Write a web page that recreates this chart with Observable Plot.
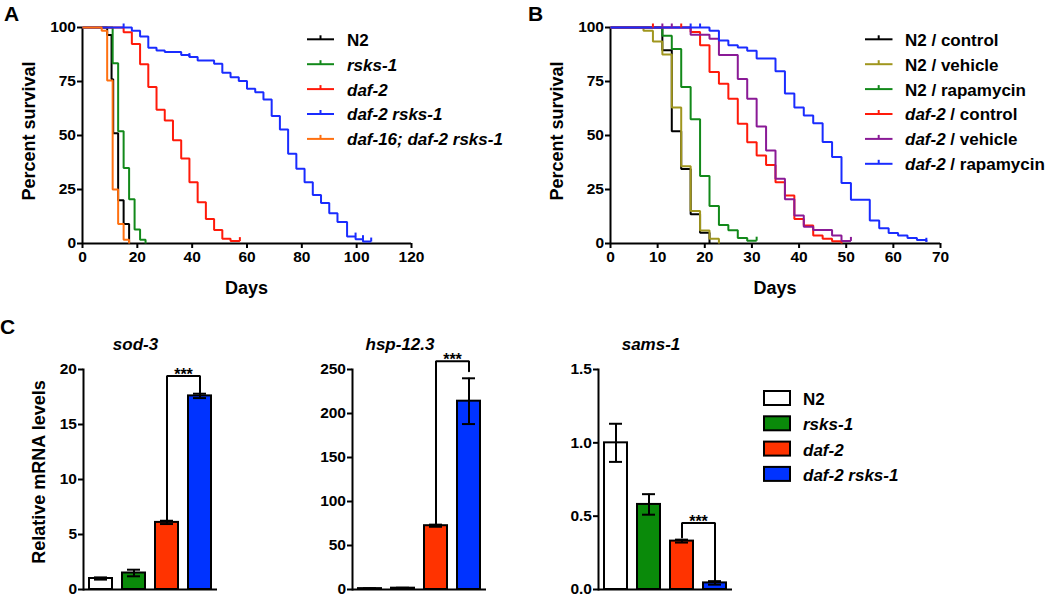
<!DOCTYPE html>
<html><head><meta charset="utf-8">
<script src="https://cdn.jsdelivr.net/npm/d3@7"></script>
<script src="https://cdn.jsdelivr.net/npm/@observablehq/plot@0.6"></script>
<style>
body{margin:0;background:#fff;}
#fig{position:relative;width:1050px;height:596px;overflow:hidden;background:#fff;}
</style></head><body><div id="fig"></div>
<script>
const FONT = '"Liberation Sans", Arial, Helvetica, sans-serif';

// ---------- Panel A data ----------
const seriesA = ["N2", "rsks-1", "daf-2", "daf-2 rsks-1", "daf-16; daf-2 rsks-1"];
const colorsA = ["#000000", "#12891a", "#ff1a0a", "#1a2cff", "#ff7010"];
const daysA_N2 = [0, 9, 10.6, 11.2, 13, 15, 17];
const pctA_N2 = [100, 96.5, 76, 51, 20, 9, 0];
const daysA_rsks = [0, 11, 13, 15, 17, 19, 21, 23];
const pctA_rsks = [100, 83.5, 52, 35, 20.5, 6.5, 1.7, 0];
const daysA_daf2 = [0, 15, 18, 21, 24, 27, 30, 33, 36, 39, 42, 45, 48, 51, 54, 57.4];
const pctA_daf2 = [100, 97.8, 92.4, 83, 72.4, 61.9, 57, 47.8, 39.3, 28.4, 19.1, 11.4, 6.3, 2.2, 1.1, 1.1];
const daysA_double = [0, 18, 21, 24, 27, 30, 36, 39, 42, 48, 51, 54, 57, 60, 63, 66, 69, 72, 75, 78, 81, 84, 87, 90, 93, 96.5, 99.6, 102.3, 105.3];
const pctA_double = [100, 98.5, 95.8, 90.6, 89.4, 88.6, 87.3, 86.3, 84.7, 83.2, 79, 77, 75.2, 71.6, 70, 66.7, 59, 52.8, 41.5, 34.6, 28.4, 22.5, 18.7, 14, 9.9, 3.2, 2, 0.9, 0.9];
const daysA_triple = [0, 7, 9, 11, 13, 15, 17];
const pctA_triple = [100, 98.5, 75.5, 25, 9, 1.7, 0];
const censorA_series = ["daf-2 rsks-1", "daf-2 rsks-1", "daf-2 rsks-1", "daf-2 rsks-1", "daf-2 rsks-1", "daf-2"];
const censorA_day = [15, 39, 99.6, 102.3, 105.3, 57.4];
const censorA_pct = [100, 86.3, 3.2, 2, 0.9, 1.1];
const xTicksA = [0, 20, 40, 60, 80, 100, 120];

// ---------- Panel B data ----------
const seriesB = ["N2 / control", "N2 / vehicle", "N2 / rapamycin", "daf-2 / control", "daf-2 / vehicle", "daf-2 / rapamycin"];
const colorsB = ["#000000", "#a0961e", "#12891a", "#ff1a0a", "#8a1a96", "#1a2cff"];
const daysB_n2c = [0, 11, 13, 15, 17, 19, 21];
const pctB_n2c = [100, 89.5, 52, 34.5, 13.5, 5, 0];
const daysB_n2v = [0, 7, 9, 11, 13, 15, 17, 19, 21, 23];
const pctB_n2v = [100, 98.5, 93.5, 87.5, 63, 35.8, 15, 6, 2.2, 0];
const daysB_n2r = [0, 11, 13, 15, 17, 19, 21, 23, 25, 27, 29, 31];
const pctB_n2r = [100, 96.2, 90, 72.4, 57.5, 31.2, 17.4, 8.6, 6.1, 2.5, 1.3, 1.3];
const daysB_dc = [0, 17, 19, 21, 23, 25, 27, 29, 31, 33, 35, 37, 39, 41, 43, 45, 47, 49];
const pctB_dc = [100, 97.9, 91.8, 79.4, 74, 67, 55.4, 46.9, 40.7, 36.4, 28.3, 22.2, 11.4, 8.3, 3.7, 2.2, 1, 0];
const daysB_dv = [0, 17, 21, 23, 27, 29, 31, 33, 35, 37, 39, 41, 43, 47, 49, 51];
const pctB_dv = [100, 96.7, 94.8, 87.3, 76.2, 67, 54.2, 43, 30, 20.5, 13, 7.7, 6.2, 3.7, 1.2, 1.2];
const daysB_dr = [0, 21, 23, 25, 27, 29, 31, 35, 37, 39, 41, 43, 45, 47, 49, 51, 55, 57, 59, 61, 63, 65, 67];
const pctB_dr = [100, 98.5, 94, 91.8, 90.7, 89.2, 85.6, 79.7, 69.5, 63, 59.3, 55.7, 47, 40, 28, 20.2, 10.6, 7.1, 4.9, 3.7, 2.6, 1.6, 0.8];
const censorB_series = ["daf-2 / control", "daf-2 / vehicle", "daf-2 / vehicle", "daf-2 / control", "daf-2 / rapamycin", "daf-2 / rapamycin", "N2 / rapamycin", "daf-2 / vehicle", "daf-2 / rapamycin"];
const censorB_day = [9, 11, 13, 15, 17, 19, 31, 51, 67];
const censorB_pct = [100, 100, 100, 100, 100, 100, 1.3, 1.2, 0.8];
const xTicksB = [0, 10, 20, 30, 40, 50, 60, 70];
const yTicksSurv = [0, 25, 50, 75, 100];

// ---------- Panel C data ----------
const genotypes = ["N2", "rsks-1", "daf-2", "daf-2 rsks-1"];
const barColors = ["#ffffff", "#0a8a0a", "#ff3300", "#0033ff"];
const sod3Mean = [1.0, 1.5, 6.1, 17.6];
const sod3Err = [0.1, 0.3, 0.15, 0.2];
const hspMean = [1.0, 1.5, 72.5, 214];
const hspErr = [0.4, 0.5, 1.2, 26];
const samsMean = [1.0, 0.58, 0.33, 0.045];
const samsErr = [0.13, 0.07, 0.01, 0.012];
const bracketGenes = ["daf-2", "daf-2", "daf-2 rsks-1", "daf-2 rsks-1"];
const sod3Bracket = [6.3, 19.4, 19.4, 17.9];
const hspBracket = [74, 259.5, 259.5, 248];
const samsBracket = [0.354, 0.454, 0.454, 0.06];
const sod3Ticks = [0, 5, 10, 15, 20];
const hspTicks = [0, 50, 100, 150, 200, 250];
const samsTicks = [0, 0.5, 1.0, 1.5];

// ---------- build tables ----------
function series(name, days, pct) { return days.map((d, i) => ({series: name, day: d, pct: pct[i]})); }
const survA = [
  ...series(seriesA[0], daysA_N2, pctA_N2),
  ...series(seriesA[1], daysA_rsks, pctA_rsks),
  ...series(seriesA[2], daysA_daf2, pctA_daf2),
  ...series(seriesA[3], daysA_double, pctA_double),
  ...series(seriesA[4], daysA_triple, pctA_triple)
];
const survB = [
  ...series(seriesB[0], daysB_n2c, pctB_n2c),
  ...series(seriesB[1], daysB_n2v, pctB_n2v),
  ...series(seriesB[2], daysB_n2r, pctB_n2r),
  ...series(seriesB[3], daysB_dc, pctB_dc),
  ...series(seriesB[4], daysB_dv, pctB_dv),
  ...series(seriesB[5], daysB_dr, pctB_dr)
];
const censorA = censorA_series.map((s, i) => ({series: s, day: censorA_day[i], pct: censorA_pct[i]}));
const censorB = censorB_series.map((s, i) => ({series: s, day: censorB_day[i], pct: censorB_pct[i]}));

const censorSymbol = {draw(ctx, size) { const r = Math.sqrt(size / Math.PI); ctx.moveTo(0, 0); ctx.lineTo(0, -r); }};
const baseStyle = {fontFamily: FONT, fontWeight: "bold", fontSize: "15.5px", color: "#000", background: "transparent", overflow: "visible"};

function survivalPlot({seriesNames, colors, data, censor, xMax, xTicks, width, marginLeft, marginRight}) {
  return Plot.plot({
    width, height: 300, marginLeft, marginRight, marginTop: 27, marginBottom: 57,
    style: baseStyle,
    x: {domain: [0, xMax]},
    y: {domain: [0, 100]},
    color: {domain: seriesNames, range: colors},
    marks: [
      Plot.ruleX([0], {strokeWidth: 2}),
      Plot.ruleY([0], {strokeWidth: 2}),
      Plot.axisX({ticks: xTicks, tickSize: 5, tickPadding: 2, strokeWidth: 2, label: null, fontSize: 15.5, fontWeight: "bold"}),
      Plot.axisY({ticks: yTicksSurv, tickSize: 5, tickPadding: 1.5, strokeWidth: 2, label: null, fontSize: 15.5, fontWeight: "bold"}),
      Plot.line(data, {x: "day", y: "pct", z: "series", stroke: "series", curve: "step-after", strokeWidth: 2, strokeLinejoin: "miter", strokeLinecap: "butt"}),
      Plot.dot(censor, {x: "day", y: "pct", stroke: "series", fill: "none", symbol: censorSymbol, r: 4, strokeWidth: 2})
    ]
  });
}

function barPlot({mean, err, bracket, ticks, tickFormat}) {
  const rows = genotypes.map((g, i) => ({g, v: mean[i], e: err[i]}));
  const br = bracketGenes.map((g, i) => ({g, v: bracket[i]}));
  return Plot.plot({
    width: 240, height: 296, marginLeft: 83, marginRight: 23, marginTop: 69, marginBottom: 7,
    style: baseStyle,
    x: {type: "band", domain: genotypes, paddingInner: 0.3, paddingOuter: 0.15, axis: null},
    y: {domain: [ticks[0], ticks[ticks.length - 1]]},
    color: {domain: genotypes, range: barColors},
    marks: [
      Plot.barY(rows, {x: "g", y: "v", fill: "g", stroke: "#000", strokeWidth: 2}),
      Plot.ruleX(rows, {x: "g", y1: d => d.v - d.e, y2: d => d.v + d.e, strokeWidth: 2}),
      Plot.tickY(rows, {x: "g", y: d => d.v + d.e, strokeWidth: 2, insetLeft: 5, insetRight: 5}),
      Plot.tickY(rows, {x: "g", y: d => d.v - d.e, strokeWidth: 2, insetLeft: 5, insetRight: 5}),
      Plot.line(br, {x: "g", y: "v", strokeWidth: 2, strokeLinejoin: "miter"}),
      Plot.text([br[1]], {x: "g", y: "v", text: () => "***", dx: 16.5, dy: 4, lineAnchor: "bottom", fontSize: 16, fontWeight: "bold"}),
      Plot.ruleY([ticks[0]], {strokeWidth: 2}),
      Plot.frame({anchor: "left", strokeWidth: 2}),
      Plot.axisY({ticks, tickFormat, tickSize: 5, tickPadding: 1.5, strokeWidth: 2, label: null, fontSize: 15.5, fontWeight: "bold"})
    ]
  });
}

const fig = document.getElementById("fig");
function place(el, left, top) { el.style.position = "absolute"; el.style.left = left + "px"; el.style.top = top + "px"; fig.appendChild(el); }

place(survivalPlot({seriesNames: seriesA, colors: colorsA, data: survA, censor: censorA, xMax: 120, xTicks: xTicksA, width: 520, marginLeft: 82, marginRight: 109}), 0, 0);
place(survivalPlot({seriesNames: seriesB, colors: colorsB, data: survB, censor: censorB, xMax: 70, xTicks: xTicksB, width: 440, marginLeft: 82, marginRight: 28}), 528, 0);
place(barPlot({mean: sod3Mean, err: sod3Err, bracket: sod3Bracket, ticks: sod3Ticks, tickFormat: d3.format("d")}), 0, 300);
place(barPlot({mean: hspMean, err: hspErr, bracket: hspBracket, ticks: hspTicks, tickFormat: d3.format("d")}), 269, 300);
place(barPlot({mean: samsMean, err: samsErr, bracket: samsBracket, ticks: samsTicks, tickFormat: d3.format(".1f")}), 515, 300);

// ---------- overlay: labels, titles, legends ----------
const ov = d3.select(fig).append("svg").attr("width", 1050).attr("height", 596)
  .style("position", "absolute").style("left", 0).style("top", 0).style("pointer-events", "none")
  .attr("font-family", FONT).attr("font-weight", "bold");

function txt(x, y, s, size, opts = {}) {
  const t = ov.append("text").attr("x", x).attr("y", y).attr("font-size", size).text(s);
  if (opts.anchor) t.attr("text-anchor", opts.anchor);
  if (opts.italic) t.attr("font-style", "italic");
  if (opts.rotate) t.attr("transform", `rotate(-90 ${x} ${y})`);
  return t;
}
// panel letters
txt(4, 21, "A", 21); txt(528, 21, "B", 21); txt(0, 334, "C", 21);
// axis titles
txt(35, 131, "Percent survival", 18, {anchor: "middle", rotate: true});
txt(563, 131, "Percent survival", 18, {anchor: "middle", rotate: true});
txt(246.5, 294, "Days", 18, {anchor: "middle"});
txt(775, 294, "Days", 18, {anchor: "middle"});
txt(45, 472, "Relative mRNA levels", 18, {anchor: "middle", rotate: true});
// C titles
const cTitles = ["sod-3", "hsp-12.3", "sams-1"];
const cTitleX = [135.5, 400, 651];
cTitles.forEach((t, i) => txt(cTitleX[i], 350, t, 17, {anchor: "middle", italic: true}));

function richText(x, y, parts, size) {
  const t = ov.append("text").attr("x", x).attr("y", y).attr("font-size", size);
  parts.forEach(([s, it]) => t.append("tspan").attr("font-style", it ? "italic" : "normal").text(s));
}
// legend A
const legendAParts = [[["N2", false]], [["rsks-1", true]], [["daf-2", true]], [["daf-2 rsks-1", true]], [["daf-16; daf-2 rsks-1", true]]];
legendAParts.forEach((parts, i) => {
  const yb = 45.7 + i * 24.9, yl = yb - 6.4;
  ov.append("line").attr("x1", 307).attr("x2", 334).attr("y1", yl).attr("y2", yl).attr("stroke", colorsA[i]).attr("stroke-width", 2);
  ov.append("line").attr("x1", 320.5).attr("x2", 320.5).attr("y1", yl).attr("y2", yl - 4).attr("stroke", colorsA[i]).attr("stroke-width", 2);
  richText(347, yb, parts, 17);
});
// legend B
const legendBParts = [[["N2 / control", false]], [["N2 / vehicle", false]], [["N2 / rapamycin", false]],
  [["daf-2", true], [" / control", false]], [["daf-2", true], [" / vehicle", false]], [["daf-2", true], [" / rapamycin", false]]];
legendBParts.forEach((parts, i) => {
  const yb = 45.7 + i * 24.9, yl = yb - 6.4;
  ov.append("line").attr("x1", 865).attr("x2", 892.5).attr("y1", yl).attr("y2", yl).attr("stroke", colorsB[i]).attr("stroke-width", 2);
  ov.append("line").attr("x1", 878.7).attr("x2", 878.7).attr("y1", yl).attr("y2", yl - 4).attr("stroke", colorsB[i]).attr("stroke-width", 2);
  richText(905, yb, parts, 17);
});
// legend C
const legendCParts = [[["N2", false]], [["rsks-1", true]], [["daf-2", true]], [["daf-2 rsks-1", true]]];
legendCParts.forEach((parts, i) => {
  const yb = 405 + i * 25.3;
  ov.append("rect").attr("x", 764).attr("y", yb - 14).attr("width", 26).attr("height", 14)
    .attr("fill", barColors[i]).attr("stroke", "#000").attr("stroke-width", 2);
  richText(803, yb, parts, 17);
});
</script></body></html>
